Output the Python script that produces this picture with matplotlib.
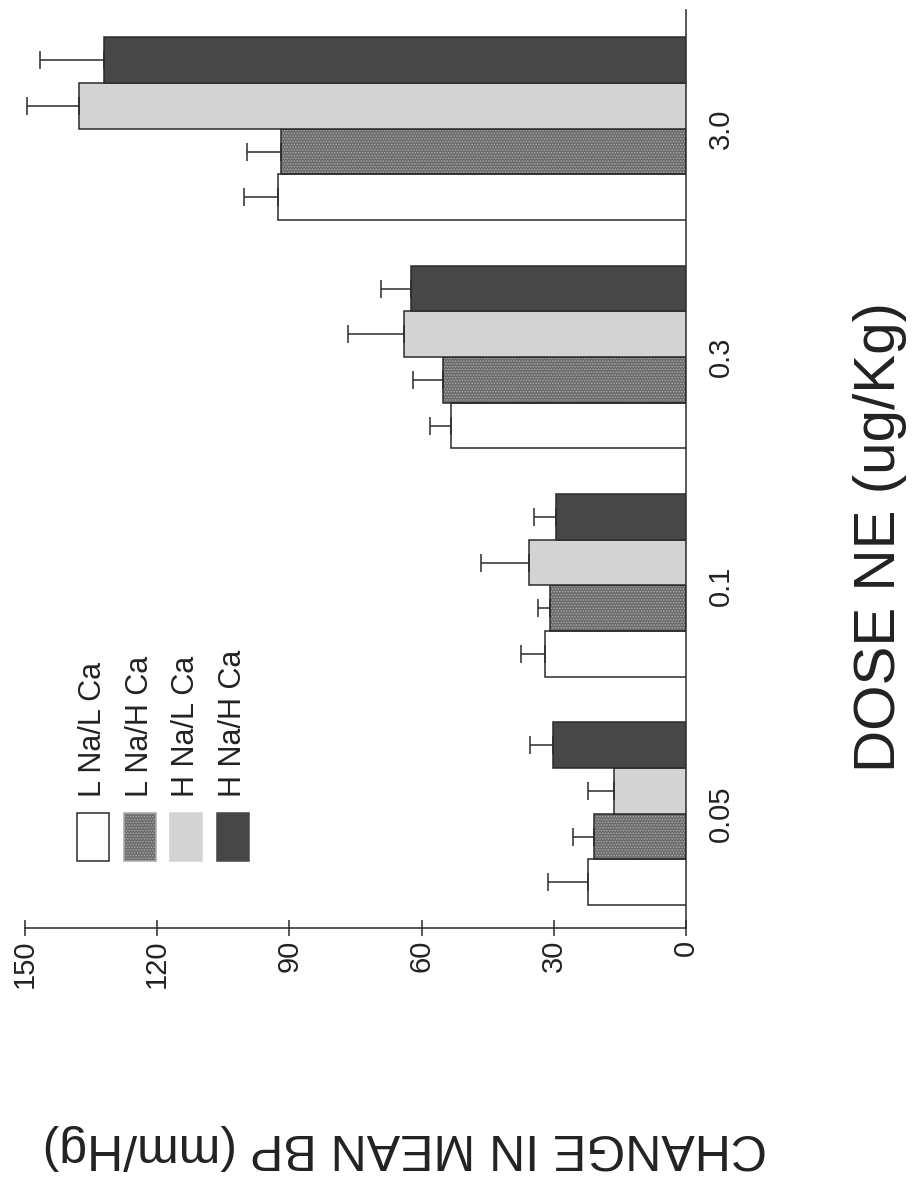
import numpy as np
import matplotlib.pyplot as plt
from matplotlib.patches import Rectangle

plt.rcParams['font.family'] = ['Liberation Sans', 'DejaVu Sans']
plt.rcParams['hatch.linewidth'] = 0.7

# dose groups and the four diet groups
doses = ['0.05', '0.1', '0.3', '3.0']
groups = ['L Na/L Ca', 'L Na/H Ca', 'H Na/L Ca', 'H Na/H Ca']

# change in mean BP (mm/Hg) and its error, one list per diet group
lna_lca = [22.3, 32.0, 53.4, 92.5]
lna_lca_err = [9.1, 5.5, 4.8, 7.7]
lna_hca = [20.9, 30.9, 55.2, 92.0]
lna_hca_err = [4.8, 2.7, 6.8, 7.7]
hna_lca = [16.4, 35.7, 64.1, 137.7]
hna_lca_err = [5.9, 10.9, 12.7, 11.8]
hna_hca = [30.2, 29.5, 62.3, 132.0]
hna_hca_err = [5.2, 5.0, 6.8, 14.6]

value_ticks = [0, 30, 60, 90, 120, 150]

means = [lna_lca, lna_hca, hna_lca, hna_hca]
errs = [lna_lca_err, lna_hca_err, hna_lca_err, hna_hca_err]
fills = ['white', '#6c6c6c', '#d3d3d3', '#474747']
hatches = [None, '......', None, None]
ink = '#2b2b2b'

W, H = 921, 1194
fig = plt.figure(figsize=(W / 100, H / 100), dpi=100)
# page is turned on its side: values run right-to-left, doses bottom-to-top
ax = fig.add_axes([25 / W, (H - 928) / H, 661 / W, 918 / H])

bw = 0.2
x = np.arange(len(doses))
for k in range(4):
    pos = x + (k - 1.5) * bw
    if hatches[k]:
        ax.barh(pos, means[k], height=bw, color=fills[k], edgecolor='#a9a9a9',
                linewidth=0, hatch=hatches[k], zorder=2)
        ax.barh(pos, means[k], height=bw, fill=False, edgecolor=ink,
                linewidth=1.1, zorder=3)
    else:
        ax.barh(pos, means[k], height=bw, color=fills[k], edgecolor=ink,
                linewidth=1.1, zorder=3)
    ax.errorbar(means[k], pos, xerr=[np.zeros(len(doses)), errs[k]], fmt='none',
                ecolor=ink, elinewidth=1.1, capsize=6.5, capthick=1.1, zorder=4)

ax.set_xlim(150, 0)
ax.set_ylim(-0.5, 3.52)

for s in ['left', 'top']:
    ax.spines[s].set_visible(False)
for s in ['right', 'bottom']:
    ax.spines[s].set_color(ink)
    ax.spines[s].set_linewidth(1.1)

ax.set_xticks(value_ticks)
ax.tick_params(axis='x', direction='inout', length=11, width=1.1, color=ink,
               pad=3, labelsize=21, labelrotation=90, labelcolor='#222222')

ax.yaxis.tick_right()
ax.set_yticks(x, doses)
ax.tick_params(axis='y', length=0, pad=15, labelsize=21, labelrotation=90,
               labelcolor='#222222')
for lbl in ax.get_yticklabels():
    lbl.set_va('center')

# legend drawn sideways to follow the turned page
for k, name in enumerate(groups):
    cx = 93 + k * 46.5
    rect = Rectangle(((cx - 16) / W, 1 - 861 / H), 32 / W, 48 / H,
                     transform=fig.transFigure, facecolor=fills[k],
                     edgecolor=ink if k == 0 else fills[k], linewidth=1.1,
                     hatch=hatches[k])
    if hatches[k]:
        rect.set_edgecolor('#a9a9a9')
    fig.patches.append(rect)
    fig.text(cx / W, 1 - 797 / H, name, rotation=90, ha='center', va='bottom',
             fontsize=22, color='#222222')

fig.text(880 / W, 1 - 537 / H, 'DOSE NE (ug/Kg)', rotation=90, ha='center',
         va='center', fontsize=42, color='#222222')
fig.text(405 / W, 1 - 1147 / H, 'CHANGE IN MEAN BP (mm/Hg)', rotation=180,
         ha='center', va='center', fontsize=36, color='#222222')

fig.savefig('out.png', dpi=100)
